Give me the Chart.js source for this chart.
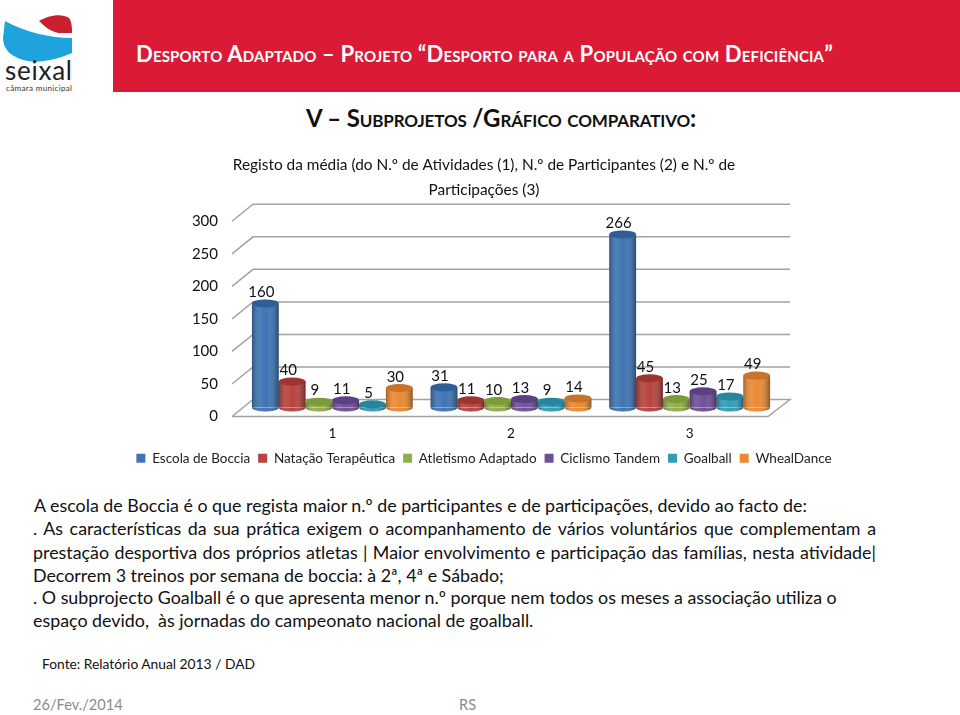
<!DOCTYPE html>
<html>
<head>
<meta charset="utf-8">
<title>Desporto Adaptado</title>
<script src="https://cdn.jsdelivr.net/npm/chart.js"></script>
<style>
  html, body { margin: 0; padding: 0; background: #fff; }
  body { width: 960px; height: 715px; position: relative; overflow: hidden; font-family: Lato, sans-serif; color: #111; }
  .abs { position: absolute; white-space: nowrap; }
  #banner { position: absolute; left: 113px; top: 0; width: 847px; height: 92px; background: #db1a36; }
  #title { left: 136px; top: 40px; color: #fff; font-size: 22.1px; letter-spacing: 0.155px; font-weight: bold; font-variant: small-caps; }
  #subtitle { left: 306px; top: 103px; font-size: 24px; letter-spacing: -0.14px; font-weight: bold; font-variant: small-caps; }
  .body-line { left: 33px; width: 843px; font-size: 17.85px; line-height: 24px; }
  .just { text-align: justify; text-align-last: justify; white-space: normal; }
  #chart { position: absolute; left: 0; top: 150px; }
</style>
</head>
<body>
<svg class="abs" style="left:0;top:0" width="112" height="95">
  <path d="M5 21 C25 32 50 38 72 38 L72 53 C55 60 40 63 28 61 C12 58 3 50 3 38 Z" fill="#1fa3dc"/>
  <path d="M39 21 C48 15 62 13 69 18 C72 22 72 28 72 33 L58 33 C50 31 44 26 39 21 Z" fill="#c8202f"/>
  <text x="5" y="80" font-family="Lato, sans-serif" font-size="26" fill="#222" textLength="67">seixal</text>
  <text x="6" y="91" font-family="Lato, sans-serif" font-size="8" fill="#333" textLength="66">câmara municipal</text>
</svg>
<div id="banner"></div>
<div id="title" class="abs">Desporto Adaptado – Projeto “Desporto para a População com Deficiência”</div>
<div id="subtitle" class="abs">V – Subprojetos /Gráfico comparativo:</div>
<canvas id="chart" width="968" height="325"></canvas>
<div class="abs body-line" style="top:493px;left:34px;width:auto">A escola de Boccia é o que regista maior n.º de participantes e de participações, devido ao facto de:</div>
<div class="abs body-line just" style="top:516px">. As características da sua prática exigem o acompanhamento de vários voluntários que complementam a</div>
<div class="abs body-line just" style="top:540px">prestação desportiva dos próprios atletas | Maior envolvimento e participação das famílias, nesta atividade|</div>
<div class="abs body-line" style="top:563px;width:auto">Decorrem 3 treinos por semana de boccia: à 2ª, 4ª e Sábado;</div>
<div class="abs body-line" style="top:585px;width:auto">. O subprojecto Goalball é o que apresenta menor n.º porque nem todos os meses a associação utiliza o</div>
<div class="abs body-line" style="top:608px;width:auto;white-space:pre">espaço devido,  às jornadas do campeonato nacional de goalball.</div>
<div class="abs" style="left:42px;top:655px;font-size:13.8px">Fonte: Relatório Anual 2013 / DAD</div>
<div class="abs" style="left:33px;top:696px;font-size:14.6px;color:#8b8b8b">26/Fev./2014</div>
<div class="abs" style="left:459px;top:696px;font-size:14.6px;color:#8b8b8b">RS</div>
<script>
const categories = ['1', '2', '3'];
const yTicks = [0, 50, 100, 150, 200, 250, 300];
const escolaBoccia = [160, 31, 266];
const natacao = [40, 11, 45];
const atletismo = [9, 10, 13];
const ciclismo = [11, 13, 25];
const goalball = [5, 9, 17];
const wheelDance = [30, 14, 49];

const FONT = 'Lato, sans-serif';
const GRID = '#a3a3a3';

// pseudo 3D box around the plot: back wall and floor
const wallBox = {
  id: 'wallBox',
  beforeDatasetsDraw(chart) {
    const { ctx, chartArea, scales } = chart;
    const backL = chartArea.left + 10, backR = chartArea.right + 11;
    const frontL = chartArea.left - 11, frontR = chartArea.right - 11;
    ctx.save();
    ctx.strokeStyle = GRID;
    ctx.lineWidth = 1.5;
    yTicks.forEach(v => {
      const y = scales.y.getPixelForValue(v) - 8;
      ctx.beginPath();
      ctx.moveTo(frontL, y + 17);
      ctx.lineTo(backL, y);
      ctx.lineTo(backR, y);
      if (v === 0) {
        ctx.lineTo(frontR, y + 17);
        ctx.lineTo(frontL, y + 17);
      }
      ctx.stroke();
    });
    ctx.restore();
  }
};

// turns the flat bars into cylinders and writes the value labels
const cylinders = {
  id: 'cylinders',
  afterDatasetsDraw(chart) {
    const { ctx } = chart;
    chart.data.datasets.forEach((ds, i) => {
      chart.getDatasetMeta(i).data.forEach(el => {
        const left = el.x - el.width / 2, rx = el.width / 2, ry = 4;
        const shade = ctx.createLinearGradient(left, 0, left + el.width, 0);
        shade.addColorStop(0, 'rgba(0,0,0,0.3)');
        shade.addColorStop(0.3, 'rgba(255,255,255,0.08)');
        shade.addColorStop(0.55, 'rgba(255,255,255,0)');
        shade.addColorStop(1, 'rgba(0,0,0,0.38)');
        ctx.save();
        ctx.fillStyle = ds.backgroundColor;
        ctx.beginPath();
        ctx.ellipse(el.x, el.base, rx, ry, 0, 0, Math.PI);
        ctx.fill();
        ctx.fillStyle = shade;
        ctx.beginPath();
        ctx.moveTo(left, el.y);
        ctx.lineTo(left, el.base);
        ctx.ellipse(el.x, el.base, rx, ry, 0, Math.PI, 0, true);
        ctx.lineTo(left + el.width, el.y);
        ctx.closePath();
        ctx.fill();
        ctx.fillStyle = ds.capColor;
        ctx.beginPath();
        ctx.ellipse(el.x, el.y, rx, ry, 0, 0, Math.PI * 2);
        ctx.fill();
        ctx.restore();
      });
    });
    chart.data.datasets.forEach((ds, i) => {
      chart.getDatasetMeta(i).data.forEach((el, j) => {
        ctx.save();
        ctx.fillStyle = '#111';
        ctx.font = '15px ' + FONT;
        ctx.textAlign = 'center';
        ctx.textBaseline = 'middle';
        ctx.fillText(String(ds.data[j]), el.x - 4, el.y - 11);
        ctx.restore();
      });
    });
  }
};

new Chart(document.getElementById('chart').getContext('2d'), {
  type: 'bar',
  data: {
    labels: categories,
    datasets: [
      { label: 'Escola de Boccia', data: escolaBoccia, backgroundColor: '#3f74b4', capColor: '#2f5e96' },
      { label: 'Natação Terapêutica', data: natacao, backgroundColor: '#b8433f', capColor: '#9c3532' },
      { label: 'Atletismo Adaptado', data: atletismo, backgroundColor: '#8fae4a', capColor: '#7c9c3a' },
      { label: 'Ciclismo Tandem', data: ciclismo, backgroundColor: '#6f4f99', capColor: '#5d4083' },
      { label: 'Goalball', data: goalball, backgroundColor: '#319db8', capColor: '#28859e' },
      { label: 'WhealDance', data: wheelDance, backgroundColor: '#ea8a34', capColor: '#c8722a' }
    ]
  },
  options: {
    responsive: false,
    animation: false,
    datasets: { bar: { categoryPercentage: 0.9, barPercentage: 1 } },
    plugins: {
      tooltip: { enabled: false },
      title: {
        display: true,
        text: ['Registo da média (do N.º de Atividades (1), N.º de Participantes (2) e N.º de', 'Participações (3)'],
        color: '#111',
        font: { family: FONT, size: 15.4, weight: 'normal', lineHeight: 1.6 },
        padding: { top: 3, bottom: 10 }
      },
      legend: {
        position: 'bottom',
        labels: { boxWidth: 9, boxHeight: 9, color: '#222', font: { family: FONT, size: 13.5 }, padding: 8 }
      }
    },
    scales: {
      x: {
        grid: { display: false, drawTicks: false },
        border: { display: false },
        ticks: { color: '#111', font: { family: FONT, size: 13.5 }, padding: 18 },
        afterFit(scale) { scale.height = 36; }
      },
      y: {
        min: 0,
        max: 300,
        grid: { display: false, drawTicks: false },
        border: { display: false },
        afterBuildTicks(scale) { scale.ticks = yTicks.map(v => ({ value: v })); },
        afterFit(scale) { scale.width = 243; },
        ticks: { color: '#111', font: { family: FONT, size: 15 }, padding: 25, labelOffset: 9 }
      },
      // empty axis, keeps the room on the right of the plot
      yRight: {
        position: 'right',
        grid: { display: false, drawTicks: false },
        border: { display: false },
        ticks: { display: false },
        afterFit(scale) { scale.width = 189; }
      }
    }
  },
  plugins: [wallBox, cylinders]
});
</script>
</body>
</html>
